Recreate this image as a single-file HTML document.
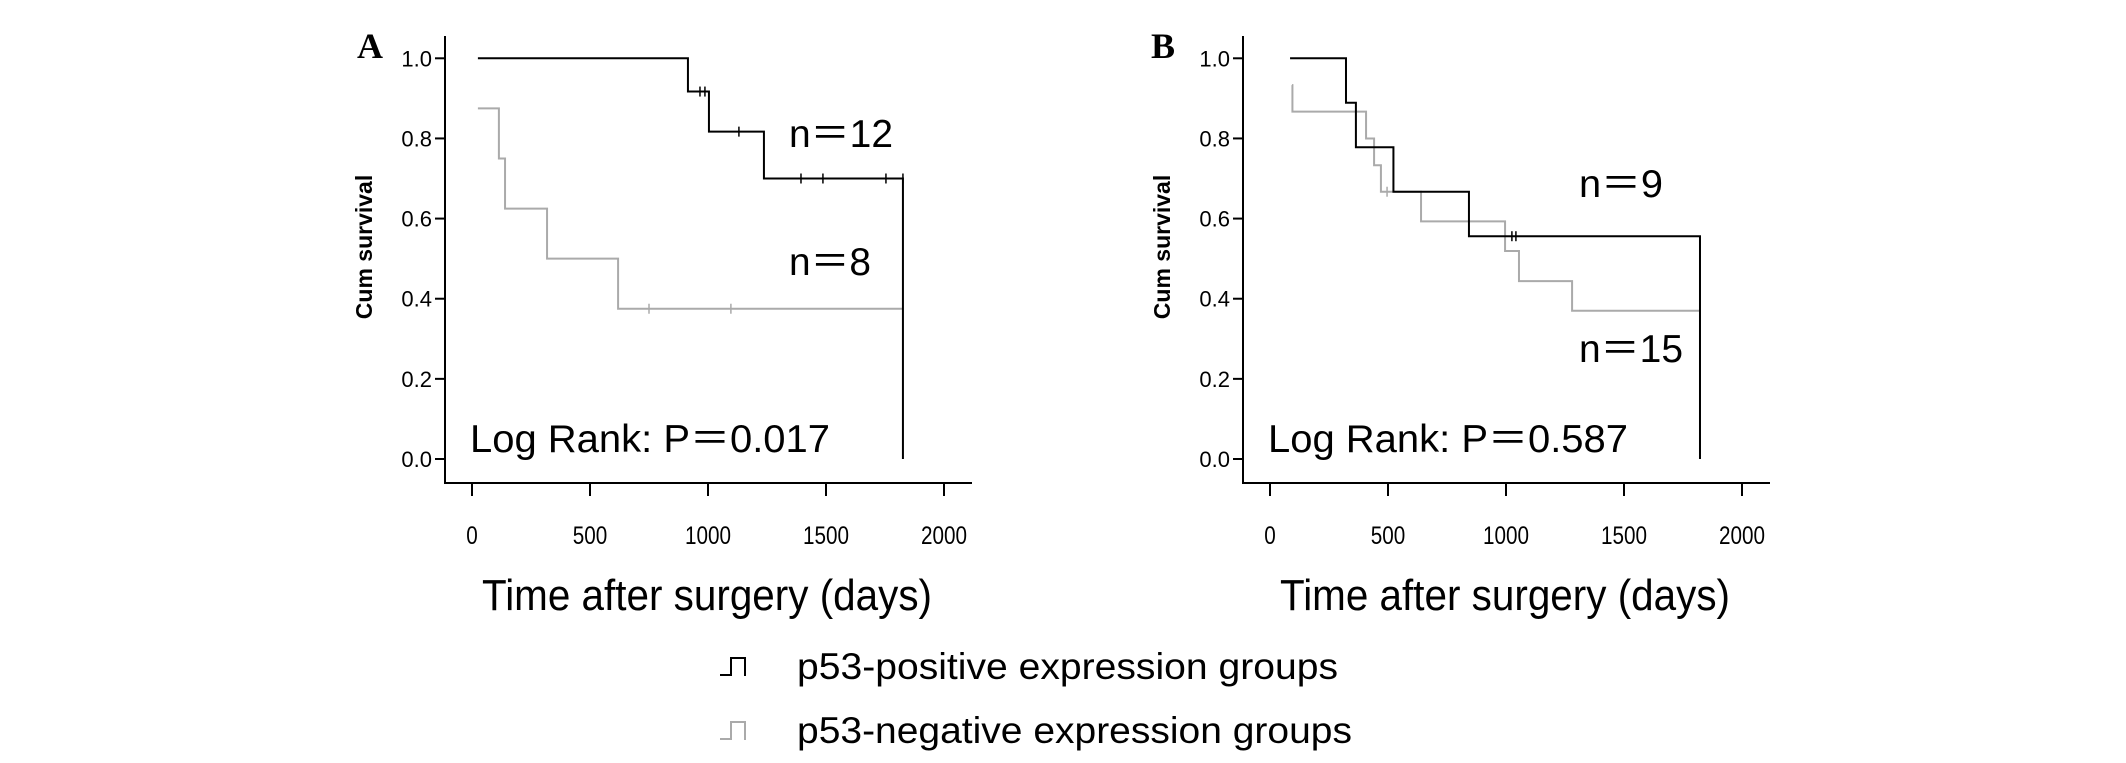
<!DOCTYPE html>
<html><head><meta charset="utf-8">
<style>
html,body{margin:0;padding:0;background:#fff;}
svg{display:block;}
text{font-family:"Liberation Sans","Noto Sans CJK SC",sans-serif;fill:#000;}
</style></head>
<body>
<svg id="fig" width="2126" height="763" viewBox="0 0 2126 763" xmlns="http://www.w3.org/2000/svg">
  <g id="panelA"></g>
  <g id="panelB"></g>
  <g>
    <path d="M720 675 H731 V658 H745 V676" fill="none" stroke="#000" stroke-width="2"/>
    <text x="797" y="679" font-size="37" textLength="541" lengthAdjust="spacingAndGlyphs">p53-positive expression groups</text>
    <path d="M720 739 H731 V722 H745 V740" fill="none" stroke="#aaa" stroke-width="2"/>
    <text x="797" y="743" font-size="37" textLength="555" lengthAdjust="spacingAndGlyphs">p53-negative expression groups</text>
  </g>
</svg>
<script>
// ---- data ----
const xTicks = [0, 500, 1000, 1500, 2000];
const yTicks = [0.0, 0.2, 0.4, 0.6, 0.8, 1.0];
const yTickLabels = ["0.0", "0.2", "0.4", "0.6", "0.8", "1.0"];

const aPosTimes = [25, 915, 1004, 1237];
const aPosSurv  = [1.0, 0.917, 0.817, 0.70];
const aPosEnd = 1826;
const aPosCensorTimes = [966, 987, 1131, 1394, 1487, 1754, 1826];
const aPosCensorSurv  = [0.917, 0.917, 0.817, 0.70, 0.70, 0.70, 0.70];

const aNegTimes = [25, 114, 140, 318, 619];
const aNegSurv  = [0.875, 0.75, 0.625, 0.5, 0.375];
const aNegEnd = 1826;
const aNegCensorTimes = [750, 1097];
const aNegCensorSurv  = [0.375, 0.375];

const bPosTimes = [85, 322, 364, 523, 843];
const bPosSurv  = [1.0, 0.889, 0.778, 0.667, 0.556];
const bPosEnd = 1822;
const bPosCensorTimes = [1025, 1042];
const bPosCensorSurv  = [0.556, 0.556];

const bNegTimes = [93, 95, 407, 441, 470, 640, 996, 1055, 1280];
const bNegSurv  = [0.933, 0.867, 0.8, 0.733, 0.667, 0.593, 0.519, 0.444, 0.37];
const bNegEnd = 1822;
const bNegCensorTimes = [496];
const bNegCensorSurv  = [0.667];

const NS = "http://www.w3.org/2000/svg";
function mk(tag, attrs, parent){
  const e = document.createElementNS(NS, tag);
  for (const k in attrs) e.setAttribute(k, attrs[k]);
  parent.appendChild(e);
  return e;
}

function drawPanel(g, off, letter, pText, nPos, nNeg, series){
  const x = t => 472 + off + t * 0.236;
  const y = v => 459 - v * 400.7;
  const ax = 445 + off;

  const L = mk("text", {x: 357 + off + (letter === "B" ? -4 : 0), y: 58, "font-size": 36, "font-weight": "bold", style: "font-family:'Liberation Serif',serif"}, g);
  
  
  L.textContent = letter;

  const yAxis = mk("line", {x1: ax, y1: 36, x2: ax, y2: 484, stroke: "#000", "stroke-width": 2}, g);
  
  
  const xAxis = mk("line", {x1: ax - 1, y1: 483, x2: 972 + off, y2: 483, stroke: "#000", "stroke-width": 2}, g);
  
  

  yTicks.forEach((v, i) => {
    const tk = mk("line", {x1: ax - 10, y1: y(v), x2: ax, y2: y(v), stroke: "#000", "stroke-width": 2}, g);
    
    
    const tl = mk("text", {x: ax - 13, y: y(v) + 8, "font-size": 22, "text-anchor": "end"}, g);
    
    
    tl.textContent = yTickLabels[i];
  });
  xTicks.forEach(t => {
    const tk = mk("line", {x1: x(t), y1: 483, x2: x(t), y2: 496, stroke: "#000", "stroke-width": 2}, g);
    
    
    const s = String(t);
    const tl = mk("text", {x: x(t), y: 544, "font-size": 25, "text-anchor": "middle", textLength: s.length * 11.5, lengthAdjust: "spacingAndGlyphs"}, g);
    
    
    tl.textContent = s;
  });

  const yt = mk("text", {x: 0, y: 0, "font-size": 23, "font-weight": "bold", "text-anchor": "middle", transform: `translate(${372 + off},${247}) rotate(-90)`}, g);
  
  
  yt.textContent = "Cum survival";

  const xt = mk("text", {x: 707 + off, y: 610, "font-size": 44, "text-anchor": "middle", textLength: 450, lengthAdjust: "spacingAndGlyphs"}, g);
  
  
  xt.textContent = "Time after surgery (days)";

  series.forEach(s => {
    let d = `M${x(s.times[0])} ${y(s.surv[0])}`;
    for (let i = 1; i < s.times.length; i++) {
      d += ` H${x(s.times[i])} V${y(s.surv[i])}`;
    }
    d += ` H${x(s.end)}`;
    if (s.drop) d += ` V${y(0)}`;
    const p = mk("path", {d: d, fill: "none", stroke: s.color, "stroke-width": 2}, g);
    
    
    s.ct.forEach((t, i) => {
      const c = mk("line", {x1: x(t), y1: y(s.cs[i]) - 5, x2: x(t), y2: y(s.cs[i]) + 5, stroke: s.color, "stroke-width": 1.5}, g);
      
      
    });
  });

  const lr = mk("text", {x: 470 + off, y: 452, "font-size": 39, textLength: 360, lengthAdjust: "spacingAndGlyphs"}, g);
  
  
  lr.textContent = pText;

  const n1 = mk("text", {x: nPos[0], y: nPos[1], "font-size": 39, textLength: nPos[2], lengthAdjust: "spacingAndGlyphs"}, g);
  
  
  n1.textContent = nPos[3];
  const n2 = mk("text", {x: nNeg[0], y: nNeg[1], "font-size": 39, textLength: nNeg[2], lengthAdjust: "spacingAndGlyphs"}, g);
  
  
  n2.textContent = nNeg[3];
}

drawPanel(document.getElementById("panelA"), 0, "A", "Log Rank: P＝0.017",
  [789, 147, 104, "n＝12"], [789, 275, 82, "n＝8"],
  [
    {name: "curve-a-negative", color: "#aaa", times: aNegTimes, surv: aNegSurv, end: aNegEnd, drop: false, ct: aNegCensorTimes, cs: aNegCensorSurv},
    {name: "curve-a-positive", color: "#000", times: aPosTimes, surv: aPosSurv, end: aPosEnd, drop: true, ct: aPosCensorTimes, cs: aPosCensorSurv}
  ]);
drawPanel(document.getElementById("panelB"), 798, "B", "Log Rank: P＝0.587",
  [1579, 197, 84, "n＝9"], [1579, 362, 104, "n＝15"],
  [
    {name: "curve-b-negative", color: "#aaa", times: bNegTimes, surv: bNegSurv, end: bNegEnd, drop: false, ct: bNegCensorTimes, cs: bNegCensorSurv},
    {name: "curve-b-positive", color: "#000", times: bPosTimes, surv: bPosSurv, end: bPosEnd, drop: true, ct: bPosCensorTimes, cs: bPosCensorSurv}
  ]);
</script>
</body></html>
